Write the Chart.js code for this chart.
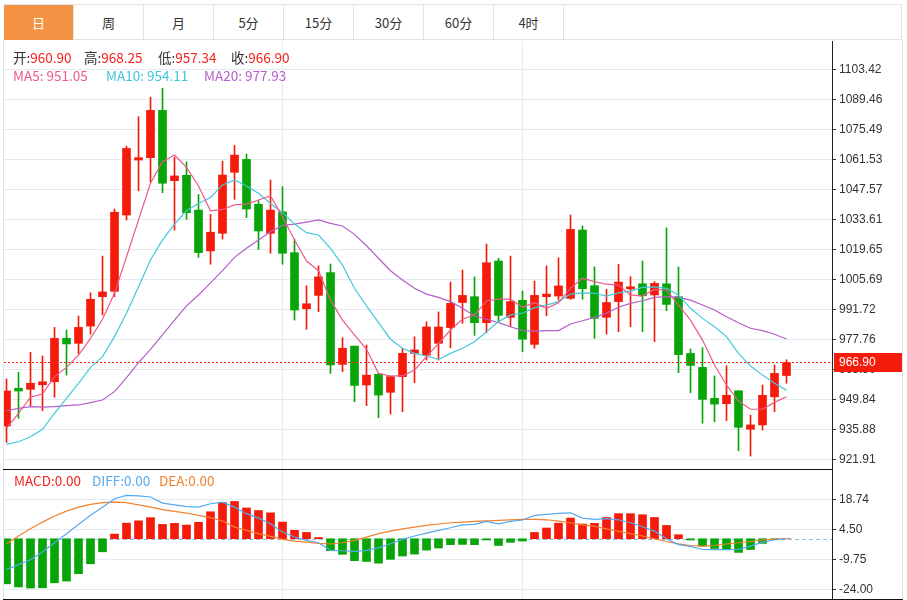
<!DOCTYPE html>
<html>
<head>
<meta charset="utf-8">
<script src="https://cdn.jsdelivr.net/npm/chart.js@4.4.1/dist/chart.umd.min.js"></script>
<style>
  body { margin: 0; background: #fff; font-family: "Noto Sans CJK SC", "Noto Sans", sans-serif; }
  .abs { position: absolute; }
  #tabs { left: 4px; top: 4px; width: 898px; height: 36px; border-top: 1px solid #e2e2e2; border-bottom: 1px solid #e2e2e2; border-right: 1px solid #e2e2e2; box-sizing: border-box; }
  .tab { position: absolute; top: 0; height: 35px; line-height: 35px; text-align: center; font-size: 13px; color: #333; border-right: 1px solid #e2e2e2; box-sizing: border-box; }
  .tab.on { background: #f39343; color: #fff; }
  .lg { position: absolute; font-size: 13.5px; line-height: 18px; white-space: nowrap; }
  .k { color: #333; }
  .v { color: #f5221a; }
</style>
</head>
<body>
<div id="tabs" class="abs"></div>
<div class="abs" style="left:3px;top:40px;width:1px;height:560px;background:#dde4ea"></div>
<div class="abs" style="left:902px;top:40px;width:1px;height:560px;background:#dde4ea"></div>
<canvas id="mainChart" class="abs" style="left:4px;top:41px" width="898" height="428"></canvas>
<canvas id="macdChart" class="abs" style="left:4px;top:469px" width="898" height="130"></canvas>
<div class="abs" style="left:3px;top:469px;width:829px;height:1px;background:#111"></div>
<div class="abs" style="left:3px;top:599px;width:900px;height:1px;background:#111"></div>

<div class="lg" style="left:13px;top:48px"><span class="k">开:</span><span class="v">960.90</span></div>
<div class="lg" style="left:84px;top:48px"><span class="k">高:</span><span class="v">968.25</span></div>
<div class="lg" style="left:158px;top:48px"><span class="k">低:</span><span class="v">957.34</span></div>
<div class="lg" style="left:231px;top:48px"><span class="k">收:</span><span class="v">966.90</span></div>
<div class="lg" style="left:13px;top:66px;color:#ec5a8c">MA5: 951.05</div>
<div class="lg" style="left:106px;top:66px;color:#3fc5da">MA10: 954.11</div>
<div class="lg" style="left:204px;top:66px;color:#b65ccb">MA20: 977.93</div>
<div class="lg" style="left:14px;top:471px;color:#f5221a">MACD:0.00</div>
<div class="lg" style="left:92px;top:471px;color:#55a9f0">DIFF:0.00</div>
<div class="lg" style="left:159px;top:471px;color:#f3802e">DEA:0.00</div>

<script>
// tab captions
const tabNames = ['日', '周', '月', '5分', '15分', '30分', '60分', '4时'];

// daily candles, oldest first
const opens  = [937.4, 955.0, 954.5, 956.6, 958.0, 978.2, 975.9, 983.9, 997.6, 1000.1,
                1035.6, 1061.2, 1062.3, 1084.3, 1051.6, 1054.1, 1037.9, 1018.9, 1027.1, 1055.5,
                1061.5, 1040.6, 1027.1, 1037.1, 1018.1, 992.0, 998.2, 1008.8, 966.1, 974.6,
                956.5, 961.5, 953.1, 960.4, 971.2, 970.4, 975.9, 983.2, 994.9, 997.6,
                985.5, 1014.2, 988.0, 995.9, 975.4, 997.6, 997.9, 996.8, 1028.6, 1002.7,
                988.0, 995.3, 1001.2, 1003.6, 998.4, 1003.6, 997.6, 971.2, 964.7, 950.3,
                947.8, 953.8, 935.9, 937.9, 951.0, 960.90];
const highs  = [959.3, 962.4, 971.7, 970.0, 983.3, 982.1, 988.6, 999.4, 1016.5, 1038.4,
                1067.7, 1081.4, 1090.4, 1094.6, 1062.5, 1060.3, 1045.2, 1035.9, 1060.7, 1068.0,
                1064.0, 1042.3, 1051.9, 1048.8, 1024.4, 1002.7, 1012.0, 1012.8, 978.5, 974.6,
                975.1, 961.9, 960.6, 973.6, 978.9, 985.9, 990.5, 1004.4, 1010.0, 1006.8,
                1022.1, 1015.5, 1016.5, 1000.2, 1004.9, 1011.9, 1015.7, 1035.6, 1030.5, 1011.5,
                1001.0, 1012.6, 1006.9, 1014.2, 1004.6, 1029.6, 1011.4, 973.3, 973.9, 960.7,
                965.5, 953.8, 942.5, 956.5, 965.8, 968.25];
const lows   = [929.8, 941.0, 946.7, 944.5, 950.8, 961.1, 970.9, 980.2, 989.1, 997.6,
                1033.3, 1046.9, 1051.1, 1046.0, 1028.6, 1033.6, 1015.9, 1012.7, 1024.4, 1042.9,
                1034.4, 1019.6, 1017.8, 1012.7, 986.7, 982.4, 990.6, 961.9, 962.7, 948.7,
                946.9, 941.3, 943.0, 944.1, 957.6, 968.1, 968.1, 973.8, 985.2, 979.6,
                980.8, 985.5, 983.6, 972.0, 973.6, 988.7, 996.0, 996.4, 996.4, 978.2,
                980.2, 981.3, 983.6, 981.3, 976.6, 991.1, 962.2, 952.9, 938.7, 939.4,
                939.9, 925.9, 923.4, 935.5, 944.1, 957.34];
const closes = [953.7, 953.7, 957.3, 958.0, 978.2, 975.6, 983.3, 996.4, 999.8, 1036.9,
                1066.6, 1062.3, 1084.3, 1050.4, 1053.8, 1036.7, 1018.1, 1027.6, 1054.2, 1063.5,
                1038.4, 1028.2, 1037.9, 1017.8, 991.4, 994.3, 1006.8, 965.8, 973.6, 956.3,
                961.1, 951.8, 960.4, 971.2, 972.8, 983.5, 983.5, 994.5, 998.2, 985.5,
                1013.4, 988.9, 995.3, 977.8, 998.2, 998.8, 1002.6, 1028.9, 1001.3, 987.5,
                994.9, 1004.4, 1002.2, 998.0, 1003.8, 994.0, 970.6, 965.6, 949.8, 947.6,
                951.7, 936.8, 937.9, 951.7, 961.9, 966.90];

// moving averages as drawn
const ma5  = [936.3, 943.3, 950.8, 952.3, 960.4, 964.7, 970.4, 978.2, 987.1, 999.2,
              1016.2, 1033.3, 1050.4, 1060.4, 1063.5, 1057.8, 1049.1, 1037.6, 1038.2, 1040.3,
              1040.7, 1042.6, 1044.5, 1034.8, 1024.0, 1014.2, 1009.7, 996.0, 986.7, 979.8,
              973.1, 961.9, 960.7, 960.7, 963.5, 969.7, 975.9, 982.1, 987.1, 989.1,
              995.6, 996.5, 996.5, 992.7, 994.8, 992.2, 994.8, 1001.5, 1006.2, 1004.6,
              1003.4, 1003.0, 998.4, 997.9, 1001.0, 1000.7, 993.7, 986.7, 977.4, 965.8,
              956.5, 949.0, 945.2, 945.3, 948.4, 951.05];
const ma10 = [928.9, 930.1, 932.4, 935.9, 943.3, 950.3, 957.3, 964.7, 969.7, 979.0,
              989.9, 1002.2, 1014.7, 1024.0, 1031.4, 1037.6, 1041.0, 1043.8, 1049.6, 1051.9,
              1049.1, 1045.7, 1041.0, 1036.7, 1031.4, 1027.4, 1026.3, 1020.1, 1012.3, 1001.5,
              993.3, 985.5, 977.8, 973.6, 971.2, 970.0, 968.4, 971.2, 973.6, 976.6,
              981.3, 986.0, 989.1, 989.9, 992.5, 993.7, 995.3, 998.8, 999.4, 999.2,
              997.9, 999.4, 1000.2, 1001.9, 1002.2, 1001.5, 998.4, 992.2, 987.5, 983.6,
              979.0, 971.2, 965.3, 961.1, 957.3, 954.11];
const ma20 = [944.5, 945.6, 946.4, 946.2, 946.4, 946.9, 947.2, 948.3, 949.5, 953.4,
              959.9, 966.9, 973.1, 979.8, 986.7, 993.3, 998.4, 1004.0, 1009.7, 1015.9,
              1020.1, 1024.0, 1027.8, 1030.8, 1031.4, 1032.3, 1033.3, 1031.7, 1030.5, 1026.6,
              1021.3, 1015.5, 1009.7, 1005.4, 1001.5, 998.8, 997.3, 995.3, 992.2, 988.6,
              987.1, 985.5, 983.6, 981.8, 981.6, 981.8, 981.8, 984.9, 986.4, 988.0,
              989.9, 992.7, 994.5, 995.7, 997.3, 997.6, 997.3, 996.0, 993.7, 991.4,
              988.3, 985.5, 982.9, 981.8, 980.1, 977.93];

// MACD pane
const macdHist = [-21.4, -22.9, -23.4, -23.3, -20.9, -20.1, -16.6, -11.9, -6.2, 2.2,
                  7.4, 8.5, 10.0, 6.8, 7.3, 6.5, 7.8, 12.8, 17.2, 17.7,
                  14.6, 13.4, 12.3, 7.9, 4.0, 3.0, 0.6, -5.7, -7.4, -10.4,
                  -10.8, -11.6, -9.8, -8.2, -7.3, -5.4, -4.4, -2.8, -2.7, -2.8,
                  -0.6, -3.2, -1.7, -1.1, 3.0, 5.1, 7.4, 9.8, 7.0, 7.3,
                  10.1, 11.9, 11.9, 11.4, 10.1, 6.3, 1.9, -0.6, -3.5, -4.6,
                  -5.1, -6.5, -5.1, -2.2, -0.3, 0];
const diff = [-14.6, -12.3, -10.0, -6.3, -1.9, 2.4, 6.8, 11.1, 15.0, 19.0,
              20.6, 20.3, 19.8, 16.9, 16.1, 15.2, 15.0, 16.6, 17.4, 15.0,
              11.9, 9.8, 7.1, 3.2, 0.8, -0.8, -1.9, -5.5, -5.7, -6.0,
              -5.5, -4.3, -2.4, -0.3, 1.3, 2.7, 4.0, 5.2, 6.6, 6.8,
              8.2, 7.1, 8.2, 8.9, 11.1, 11.6, 12.0, 12.3, 9.8, 9.2,
              9.5, 9.0, 7.6, 5.7, 3.6, 0.0, -2.8, -3.6, -5.1, -5.2,
              -5.2, -5.1, -3.5, -1.6, -0.6, 0];
const dea  = [-2.4, 1.3, 4.7, 7.9, 10.8, 13.1, 15.0, 16.3, 17.1, 17.4,
              17.1, 16.1, 15.0, 13.8, 13.0, 12.2, 11.1, 10.0, 8.4, 5.5,
              4.0, 2.4, 1.1, -0.3, -1.1, -1.6, -2.2, -2.5, -1.9, -0.8,
              0.8, 2.4, 3.6, 4.7, 5.5, 6.3, 7.0, 7.6, 7.9, 8.2,
              8.5, 8.7, 9.0, 9.2, 9.2, 9.0, 8.4, 7.6, 6.6, 5.9,
              4.7, 3.5, 2.4, 1.3, 0.0, -1.3, -2.4, -3.2, -3.5, -3.2,
              -2.5, -1.9, -1.3, -0.6, -0.2, 0];

// axis ticks
const priceTicks = [921.91, 935.88, 949.84, 963.80, 977.76, 991.72, 1005.69, 1019.65, 1033.61, 1047.57, 1061.53, 1075.49, 1089.46, 1103.42];
const macdTicks = [-24.00, -9.75, 4.50, 18.74];
const dividerBars = [23, 43];

const UP = '#f41b0b';
const DOWN = '#07a507';
const GRID = '#e3eaf0';
const X_MIN = -0.2083, X_MAX = 68.7917;

Chart.defaults.font.family = 'Liberation Sans';
Chart.defaults.font.size = 12;
Chart.defaults.color = '#333';

// Function to build the tab strip
function buildTabs() {
    const bar = document.getElementById('tabs');
    tabNames.forEach((name, i) => {
        const t = document.createElement('div');
        t.className = 'tab' + (i === 0 ? ' on' : '');
        t.style.left = (i * 70) + 'px';
        t.style.width = '70px';
        t.textContent = name;
        bar.appendChild(t);
    });
}

// shared x axis: only the two divider lines
function xAxis() {
    return {
        type: 'linear', min: X_MIN, max: X_MAX, offset: false,
        ticks: { display: false },
        grid: { color: GRID, drawTicks: false, offset: false },
        border: { display: false },
        afterBuildTicks: s => { s.ticks = dividerBars.map(v => ({ value: v })); },
        afterFit: s => { s.height = 0; }
    };
}

// right hand value axis
function yAxis(min, max, tickList) {
    return {
        position: 'right', min: min, max: max,
        afterBuildTicks: s => { s.ticks = tickList.map(v => ({ value: v })); },
        afterFit: s => { s.width = 70; s.paddingTop = 0; s.paddingBottom = 0; },
        ticks: { padding: 3, color: '#333', callback: v => Number(v).toFixed(2) },
        grid: { color: GRID, tickColor: '#333', tickLength: 4 },
        border: { color: '#222', width: 1 }
    };
}

// dotted last price line plus tag on the axis
const priceTag = {
    id: 'priceTag',
    afterDatasetsDraw(chart) {
        const { ctx, chartArea, scales } = chart;
        const y = Math.round(scales.y.getPixelForValue(closes[closes.length - 1])) - 0.5;
        ctx.save();
        ctx.strokeStyle = '#ff2418';
        ctx.lineWidth = 1;
        ctx.setLineDash([2, 2]);
        ctx.beginPath();
        ctx.moveTo(chartArea.left, y);
        ctx.lineTo(chartArea.right, y);
        ctx.stroke();
        ctx.restore();
    },
    afterDraw(chart) {
        const { ctx, chartArea, scales } = chart;
        const last = closes[closes.length - 1];
        const y = Math.round(scales.y.getPixelForValue(last));
        ctx.save();
        ctx.fillStyle = '#f51c0c';
        ctx.fillRect(chartArea.right + 2, y - 10, 68, 19);
        ctx.fillStyle = '#fff';
        ctx.font = '12px Liberation Sans';
        ctx.textBaseline = 'middle';
        ctx.fillText(last.toFixed(2), chartArea.right + 7, y);
        ctx.restore();
    }
};

// dashed zero line in the MACD pane
const zeroLine = {
    id: 'zeroLine',
    beforeDatasetsDraw(chart) {
        const { ctx, chartArea, scales } = chart;
        const y = Math.round(scales.y.getPixelForValue(0)) + 0.5;
        ctx.save();
        ctx.strokeStyle = '#93c3e3';
        ctx.lineWidth = 1;
        ctx.setLineDash([4, 3]);
        ctx.beginPath();
        ctx.moveTo(chartArea.left, y);
        ctx.lineTo(chartArea.right, y);
        ctx.stroke();
        ctx.restore();
    }
};

function lineSet(values, color) {
    return {
        type: 'line',
        data: values.map((v, i) => ({ x: i, y: v })),
        borderColor: color, borderWidth: 1.2,
        pointRadius: 0, tension: 0, order: 0
    };
}

// Function to draw candles with MA lines
function createMainChart() {
    const colors = opens.map((o, i) => closes[i] >= o ? UP : DOWN);
    new Chart(document.getElementById('mainChart'), {
        type: 'bar',
        data: {
            datasets: [
                lineSet(ma5, '#ec5a8c'),
                lineSet(ma10, '#45c8dc'),
                lineSet(ma20, '#b45ec9'),
                {
                    data: opens.map((o, i) => ({ x: i, y: [o, closes[i]] })),
                    backgroundColor: colors, barThickness: 8, grouped: false,
                    minBarLength: 1, order: 1
                },
                {
                    data: opens.map((o, i) => ({ x: i, y: [lows[i], highs[i]] })),
                    backgroundColor: colors, barThickness: 1, grouped: false, order: 2
                }
            ]
        },
        options: {
            responsive: false, animation: false,
            layout: { padding: 0 },
            plugins: { legend: { display: false }, tooltip: { enabled: false } },
            scales: { x: xAxis(), y: yAxis(917.4, 1116.6, priceTicks) }
        },
        plugins: [priceTag]
    });
}

// Function to draw the MACD pane
function createMacdChart() {
    new Chart(document.getElementById('macdChart'), {
        type: 'bar',
        data: {
            datasets: [
                lineSet(diff, '#55a9f0'),
                lineSet(dea, '#f3802e'),
                {
                    data: macdHist.map((v, i) => ({ x: i, y: v })),
                    backgroundColor: macdHist.map(v => v >= 0 ? UP : DOWN),
                    barThickness: 8, grouped: false, order: 1
                }
            ]
        },
        options: {
            responsive: false, animation: false,
            layout: { padding: 0 },
            plugins: { legend: { display: false }, tooltip: { enabled: false } },
            scales: { x: xAxis(), y: yAxis(-28.6, 33.1, macdTicks) }
        },
        plugins: [zeroLine]
    });
}

buildTabs();
createMainChart();
createMacdChart();
</script>
</body>
</html>
